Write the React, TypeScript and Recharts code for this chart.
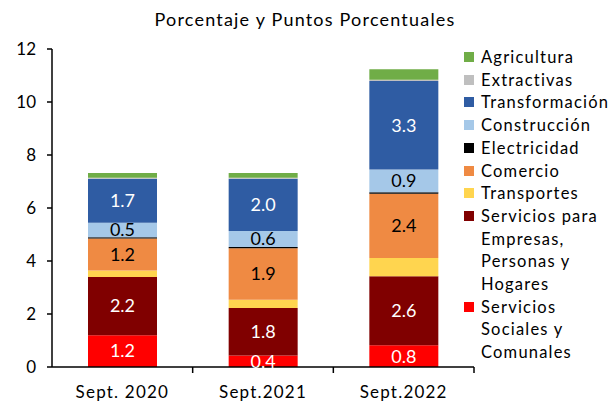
import React from 'react';
import { BarChart, Bar, XAxis, YAxis, LabelList, Legend } from 'recharts';

const categories = ['Sept. 2020', 'Sept.2021', 'Sept.2022'];
const serviciosSociales = [1.2, 0.43, 0.82];
const serviciosEmpresas = [2.2, 1.8, 2.6];
const transportes = [0.24, 0.31, 0.69];
const comercio = [1.21, 1.94, 2.43];
const electricidad = [0.05, 0.05, 0.05];
const construccion = [0.54, 0.6, 0.86];
const transformacion = [1.66, 1.97, 3.34];
const extractivas = [0.04, 0.04, 0.05];
const agricultura = [0.18, 0.18, 0.4];
const yTicks = [0, 2, 4, 6, 8, 10, 12];
const title = 'Porcentaje y Puntos Porcentuales';

const FONT = 'Lato, "Open Sans", sans-serif';

type Series = { key: string; values: number[]; color: string; label: string | null; lines: string[] };

const series: Series[] = [
  { key: 'sociales', values: serviciosSociales, color: '#FF0000', label: '#FFFFFF', lines: ['Servicios', 'Sociales y', 'Comunales'] },
  { key: 'empresas', values: serviciosEmpresas, color: '#800000', label: '#FFFFFF', lines: ['Servicios para', 'Empresas,', 'Personas y', 'Hogares'] },
  { key: 'transportes', values: transportes, color: '#FFD54F', label: null, lines: ['Transportes'] },
  { key: 'comercio', values: comercio, color: '#EF8A43', label: '#000000', lines: ['Comercio'] },
  { key: 'electricidad', values: electricidad, color: '#000000', label: null, lines: ['Electricidad'] },
  { key: 'construccion', values: construccion, color: '#A5C8E8', label: '#000000', lines: ['Construcción'] },
  { key: 'transformacion', values: transformacion, color: '#2F5CA3', label: '#FFFFFF', lines: ['Transformación'] },
  { key: 'extractivas', values: extractivas, color: '#BFBFBF', label: null, lines: ['Extractivas'] },
  { key: 'agricultura', values: agricultura, color: '#70AD47', label: null, lines: ['Agricultura'] },
];

const data = categories.map((c, i) => {
  const row: Record<string, string | number> = { name: c };
  series.forEach((s) => {
    row[s.key] = s.values[i];
  });
  return row;
});

const CHART_W = 610;
const CHART_H = 404;
const PLOT_LEFT = 52;
const PLOT_RIGHT = 474;
const PLOT_BOTTOM = 367;
const BAND = (PLOT_RIGHT - PLOT_LEFT) / categories.length;
const LEGEND_W = 130;

const XTick = (props: any) => {
  const { x, y, payload } = props;
  const bx = x + BAND / 2;
  return (
    <g>
      <line x1={bx} x2={bx} y1={y} y2={y + 6} stroke="#000" strokeWidth={1.5} />
      <text x={x} y={y + 31} textAnchor="middle" fontFamily={FONT} fontSize={17} fill="#000" letterSpacing={1.2}>
        {payload.value}
      </text>
    </g>
  );
};

const LegendContent = () => {
  const items = [...series].reverse();
  return (
    <div style={{ fontFamily: FONT, fontSize: 16.5, color: '#000', lineHeight: '22.7px', whiteSpace: 'nowrap', letterSpacing: 1.2 }}>
      {items.map((s) => (
        <div key={s.key} style={{ position: 'relative', paddingLeft: 19 }}>
          <span
            style={{ position: 'absolute', left: 2, top: 6, width: 10, height: 10, background: s.color }}
          />
          {s.lines.map((l, j) => (
            <div key={j}>{l}</div>
          ))}
        </div>
      ))}
    </div>
  );
};

export default function App() {
  return (
    <div style={{ position: 'absolute', left: 0, top: 0, width: CHART_W, height: CHART_H, background: '#fff' }}>
      <div
        style={{
          position: 'absolute',
          left: 0,
          top: 8,
          width: CHART_W,
          textAlign: 'center',
          fontFamily: FONT,
          fontSize: 18,
          letterSpacing: 1.2,
          color: '#000',
        }}
      >
        {title}
      </div>
      <BarChart
        width={CHART_W}
        height={CHART_H}
        data={data}
        margin={{ top: 49, right: CHART_W - PLOT_RIGHT - LEGEND_W, bottom: 0, left: PLOT_LEFT - 40 }}
        barSize={69}
      >
        <XAxis
          dataKey="name"
          height={CHART_H - PLOT_BOTTOM}
          axisLine={{ stroke: '#000', strokeWidth: 1.5 }}
          tickLine={false}
          tickSize={0}
          tickMargin={0}
          tick={<XTick />}
          interval={0}
        />
        <YAxis
          width={40}
          domain={[0, 12]}
          ticks={yTicks}
          axisLine={{ stroke: '#000', strokeWidth: 1.5 }}
          tickLine={{ stroke: '#000', strokeWidth: 1.5 }}
          tickSize={5}
          tickMargin={11}
          tick={{ fontFamily: FONT, fontSize: 17, fill: '#000' }}
          allowDataOverflow
        />
        <Legend
          layout="vertical"
          align="right"
          verticalAlign="top"
          width={LEGEND_W}
          wrapperStyle={{ left: 462, top: 46, width: LEGEND_W }}
          content={<LegendContent />}
        />
        {series.map((s) => (
          <Bar key={s.key} dataKey={s.key} stackId="a" fill={s.color} isAnimationActive={false}>
            {s.label ? (
              <LabelList
                dataKey={s.key}
                position="center"
                fill={s.label}
                fontFamily={FONT}
                fontSize={18}
                formatter={(v: any) => Number(v).toFixed(1)}
              />
            ) : null}
          </Bar>
        ))}
      </BarChart>
    </div>
  );
}
